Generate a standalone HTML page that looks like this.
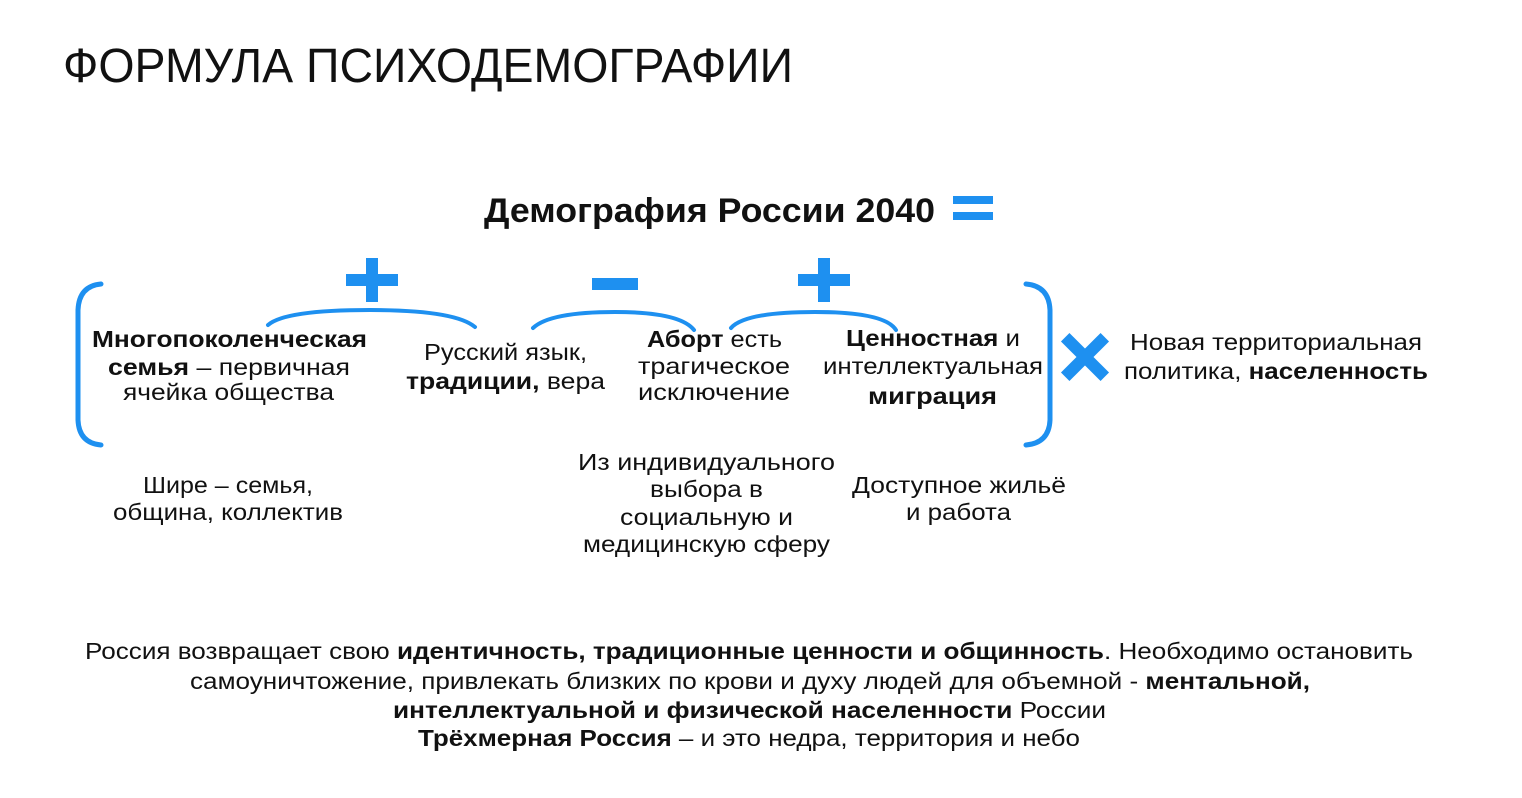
<!DOCTYPE html>
<html><head><meta charset="utf-8"><style>
html,body{margin:0;padding:0;background:#fff;}
svg{display:block;}
text{font-family:"Liberation Sans","DejaVu Sans",sans-serif;fill:#111;}
.b{font-weight:bold;}
</style></head><body>
<svg width="1522" height="798" viewBox="0 0 1522 798" xmlns="http://www.w3.org/2000/svg">
<g font-size="23" lengthAdjust="spacingAndGlyphs">
<text x="63" y="82" font-size="48" textLength="730" lengthAdjust="spacingAndGlyphs">ФОРМУЛА ПСИХОДЕМОГРАФИИ</text>
<text x="484" y="222" font-size="34" class="b" textLength="451" lengthAdjust="spacingAndGlyphs">Демография России 2040</text>

<text x="92" y="347" class="b" textLength="275" lengthAdjust="spacingAndGlyphs">Многопоколенческая</text>
<text x="108" y="375" textLength="242" lengthAdjust="spacingAndGlyphs"><tspan class="b">семья</tspan> –  первичная</text>
<text x="123" y="400" textLength="211" lengthAdjust="spacingAndGlyphs">ячейка общества</text>

<text x="424" y="360" textLength="163" lengthAdjust="spacingAndGlyphs">Русский язык,</text>
<text x="406" y="389" textLength="199" lengthAdjust="spacingAndGlyphs"><tspan class="b">традиции,</tspan> вера</text>

<text x="647" y="347" textLength="135" lengthAdjust="spacingAndGlyphs"><tspan class="b">Аборт</tspan> есть</text>
<text x="638" y="374" textLength="152" lengthAdjust="spacingAndGlyphs">трагическое</text>
<text x="638" y="400" textLength="152" lengthAdjust="spacingAndGlyphs">исключение</text>

<text x="846" y="346" textLength="174" lengthAdjust="spacingAndGlyphs"><tspan class="b">Ценностная</tspan> и</text>
<text x="823" y="374" textLength="220" lengthAdjust="spacingAndGlyphs">интеллектуальная</text>
<text x="868" y="404" class="b" textLength="129" lengthAdjust="spacingAndGlyphs">миграция</text>

<text x="1130" y="350" textLength="292" lengthAdjust="spacingAndGlyphs">Новая территориальная</text>
<text x="1124" y="379" textLength="304" lengthAdjust="spacingAndGlyphs">политика, <tspan class="b">населенность</tspan></text>

<text x="143" y="493" textLength="170" lengthAdjust="spacingAndGlyphs">Шире – семья,</text>
<text x="113" y="520" textLength="230" lengthAdjust="spacingAndGlyphs">община, коллектив</text>

<text x="578" y="470" textLength="257" lengthAdjust="spacingAndGlyphs">Из индивидуального</text>
<text x="650" y="497" textLength="113" lengthAdjust="spacingAndGlyphs">выбора в</text>
<text x="620" y="525" textLength="173" lengthAdjust="spacingAndGlyphs">социальную и</text>
<text x="583" y="552" textLength="247" lengthAdjust="spacingAndGlyphs">медицинскую сферу</text>

<text x="852" y="493" textLength="214" lengthAdjust="spacingAndGlyphs">Доступное жильё</text>
<text x="906" y="520" textLength="105" lengthAdjust="spacingAndGlyphs">и работа</text>

<text x="85" y="659" textLength="1328" lengthAdjust="spacingAndGlyphs">Россия возвращает свою <tspan class="b">идентичность, традиционные ценности и общинность</tspan>. Необходимо остановить</text>
<text x="190" y="689" textLength="1120" lengthAdjust="spacingAndGlyphs">самоуничтожение, привлекать близких по крови и духу людей для объемной - <tspan class="b">ментальной,</tspan></text>
<text x="393" y="718" textLength="713" lengthAdjust="spacingAndGlyphs"><tspan class="b">интеллектуальной и физической населенности</tspan> России</text>
<text x="418" y="746" textLength="662" lengthAdjust="spacingAndGlyphs"><tspan class="b">Трёхмерная Россия</tspan> – и это недра, территория и небо</text>
</g>

<g fill="#1e90f0">
<rect x="953" y="196" width="40" height="8"/>
<rect x="953" y="212" width="40" height="8"/>
<rect x="346" y="274" width="52" height="12"/>
<rect x="366" y="258" width="12" height="44"/>
<rect x="592" y="278" width="46" height="12"/>
<rect x="798" y="274" width="52" height="12"/>
<rect x="818" y="258" width="12" height="44"/>
<g transform="translate(1085,357) rotate(45)">
<rect x="-28" y="-6" width="56" height="12"/>
<rect x="-6" y="-28" width="12" height="56"/>
</g>
</g>
<g fill="none" stroke="#1e90f0" stroke-width="5" stroke-linecap="round">
<path d="M101 284 Q79 286 78 310 L78 420 Q79 443 101 445"/>
<path d="M1026 284 Q1049 286 1050 310 L1050 420 Q1049 443 1026 445"/>
<path d="M268 325 Q285 310 370 310 Q455 310 475 327" stroke-width="4"/>
<path d="M533 328 Q550 312 615 312 Q680 312 694 330" stroke-width="4"/>
<path d="M731 328 Q745 312 815 312 Q885 312 896 330" stroke-width="4"/>
</g>
</svg>
</body></html>
